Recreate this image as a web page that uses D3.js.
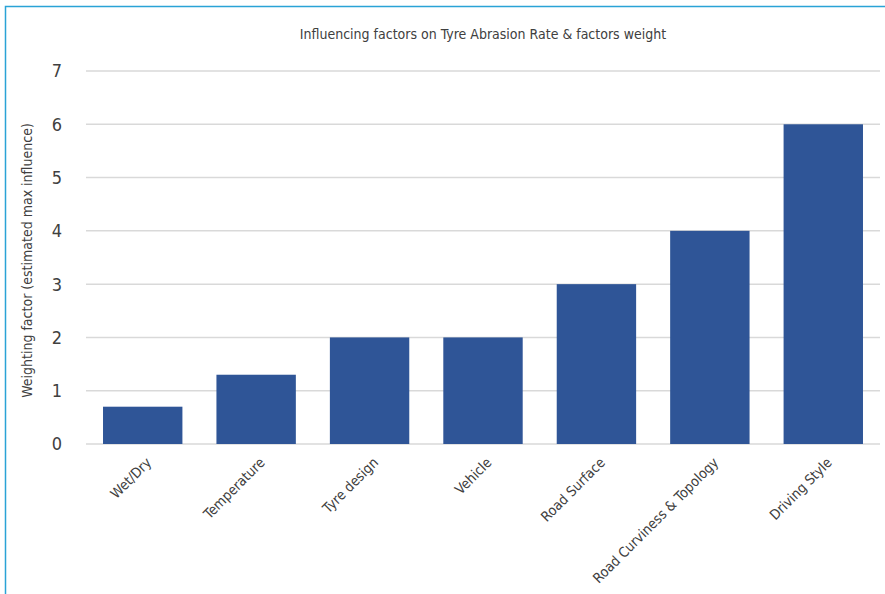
<!DOCTYPE html>
<html lang='en'>
<head>
    <meta charset='UTF-8' />
    <title>Tyre Abrasion factors</title>
    <script src="https://cdn.jsdelivr.net/npm/d3@7"></script>
    <style>
        html, body { margin: 0; background: #fff; }
        text { font-family: "Liberation Sans Narrow", "DejaVu Sans Condensed", "Roboto", sans-serif; fill: #404040; }
    </style>
</head>
<body>
    <div id="container"></div>
    <script>
        const categories = ["Wet/Dry", "Temperature", "Tyre design", "Vehicle", "Road Surface", "Road Curviness & Topology", "Driving Style"];
        const weights = [0.7, 1.3, 2, 2, 3, 4, 6];
        const yTicks = [0, 1, 2, 3, 4, 5, 6, 7];

        const width = 885, height = 594;
        const plot = { left: 86, right: 880, top: 71, bottom: 444 };

        const svg = d3.select("#container")
            .append("svg")
            .attr("width", width)
            .attr("height", height);

        // chart border (only top and left are inside the picture)
        svg.append("rect")
            .attr("x", 5.5).attr("y", 6.5)
            .attr("width", 900).attr("height", 620)
            .attr("fill", "none")
            .attr("stroke", "#2aa3d6")
            .attr("stroke-width", 1.5);

        const x = d3.scaleBand()
            .domain(categories)
            .range([plot.left, plot.right])
            .paddingInner(0.3)
            .paddingOuter(0.15);

        const y = d3.scaleLinear()
            .domain([0, 7])
            .range([plot.bottom, plot.top]);

        // gridlines
        svg.append("g")
            .selectAll("line")
            .data(yTicks)
            .join("line")
            .attr("x1", plot.left)
            .attr("x2", plot.right)
            .attr("y1", d => y(d))
            .attr("y2", d => y(d))
            .attr("stroke", "#d9d9d9")
            .attr("stroke-width", 1.5);

        // y tick labels
        svg.append("g")
            .selectAll("text")
            .data(yTicks)
            .join("text")
            .attr("x", 62)
            .attr("y", d => y(d))
            .attr("dy", "0.36em")
            .attr("text-anchor", "end")
            .style("font-size", "18px")
            .text(d => d);

        // bars
        svg.append("g")
            .selectAll("rect")
            .data(weights)
            .join("rect")
            .attr("x", (d, i) => x(categories[i]))
            .attr("width", x.bandwidth())
            .attr("y", d => y(d))
            .attr("height", d => y(0) - y(d))
            .attr("fill", "#2f5597");

        // x labels, rotated
        svg.append("g")
            .selectAll("text")
            .data(categories)
            .join("text")
            .attr("transform", d => `translate(${x(d) + x.bandwidth() / 2 + 6},${plot.bottom + 16}) rotate(-45)`)
            .attr("text-anchor", "end")
            .attr("dy", "0.35em")
            .style("font-size", "14px")
            .text(d => d);

        // title
        svg.append("text")
            .attr("x", 483)
            .attr("y", 34)
            .attr("dy", "0.35em")
            .attr("text-anchor", "middle")
            .style("font-size", "14px")
            .text("Influencing factors on Tyre Abrasion Rate & factors weight");

        // y axis title
        svg.append("text")
            .attr("transform", `translate(27,${(plot.top + plot.bottom) / 2 + 3}) rotate(-90)`)
            .attr("text-anchor", "middle")
            .attr("dy", "0.35em")
            .style("font-size", "14px")
            .text("Weighting factor (estimated max influence)");
    </script>
</body>
</html>
